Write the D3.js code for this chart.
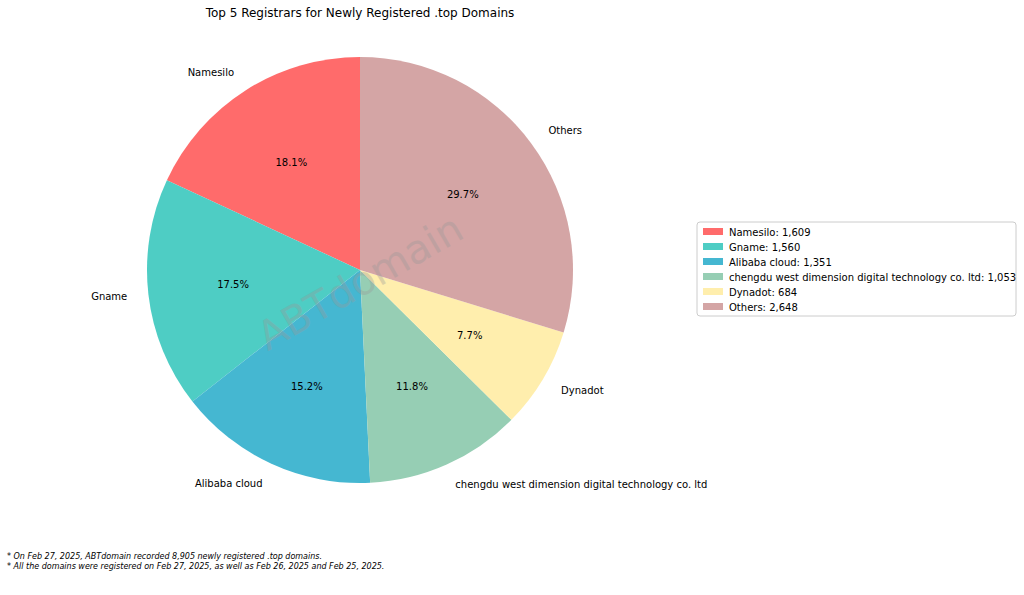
<!DOCTYPE html>
<html><head><meta charset="utf-8">
<script src="https://cdn.jsdelivr.net/npm/d3@7"></script>
<style>body{margin:0;background:#fff}text{font-family:"DejaVu Sans",sans-serif}</style>
</head><body><svg id="c" width="1024" height="595"></svg>
<script>
const categories=["Namesilo","Gname","Alibaba cloud","chengdu west dimension digital technology co. ltd","Dynadot","Others"];
const values=[1609,1560,1351,1053,684,2648];
const colors=["#FF6B6B","#4ECDC4","#45B7D1","#96CEB4","#FFEEAD","#D4A5A5"];
const svg=d3.select("#c");
const cx=360,cy=270,R=213;
const total=d3.sum(values);
const pie=d3.pie().sort(null).startAngle(0).endAngle(-2*Math.PI);
const arcs=pie(values);
const g=svg.append("g").attr("transform",`translate(${cx},${cy})`);
const arc=d3.arc().innerRadius(0).outerRadius(R);
g.selectAll("path").data(arcs).join("path").attr("d",arc).attr("fill",(d,i)=>colors[i]);
function pos(d,r){const a=(d.startAngle+d.endAngle)/2;return [r*Math.sin(a),-r*Math.cos(a)];}
g.selectAll(".pct").data(arcs).join("text").attr("x",d=>pos(d,R*0.6)[0]).attr("y",d=>pos(d,R*0.6)[1])
 .attr("text-anchor","middle").attr("dominant-baseline","central").attr("font-size",10)
 .text(d=>(d.value/total*100).toFixed(1)+"%");
g.selectAll(".lbl").data(arcs).join("text").attr("x",d=>pos(d,R*1.1)[0]).attr("y",d=>pos(d,R*1.1)[1])
 .attr("text-anchor",d=>pos(d,1)[0]<0?"end":"start").attr("dominant-baseline","central").attr("font-size",10)
 .text((d,i)=>categories[i]);
svg.append("text").attr("x",360).attr("y",282).attr("transform","rotate(-30,360,282)").attr("text-anchor","middle")
 .attr("dominant-baseline","central").attr("font-size",40).attr("fill","#999").attr("opacity",0.35).text("ABTdomain");
svg.append("text").attr("x",360).attr("y",17).attr("text-anchor","middle").attr("font-size",12).text("Top 5 Registrars for Newly Registered .top Domains");
const lg=svg.append("g").attr("transform","translate(697,222)");
lg.append("rect").attr("width",319).attr("height",94).attr("rx",3).attr("fill","#fff").attr("stroke","#ccc");
categories.forEach((c,i)=>{
 lg.append("rect").attr("x",6).attr("y",6+i*15).attr("width",20).attr("height",7).attr("fill",colors[i]);
 lg.append("text").attr("x",32).attr("y",10+i*15).attr("dominant-baseline","central").attr("font-size",10).text(c+": "+d3.format(",")(values[i]));
});
const notes=["* On Feb 27, 2025, ABTdomain recorded 8,905 newly registered .top domains.","* All the domains were registered on Feb 27, 2025, as well as Feb 26, 2025 and Feb 25, 2025."];
notes.forEach((n,i)=>svg.append("text").attr("x",7).attr("y",559+i*10).attr("font-size",8).attr("font-style","italic").text(n));
</script></body></html>
